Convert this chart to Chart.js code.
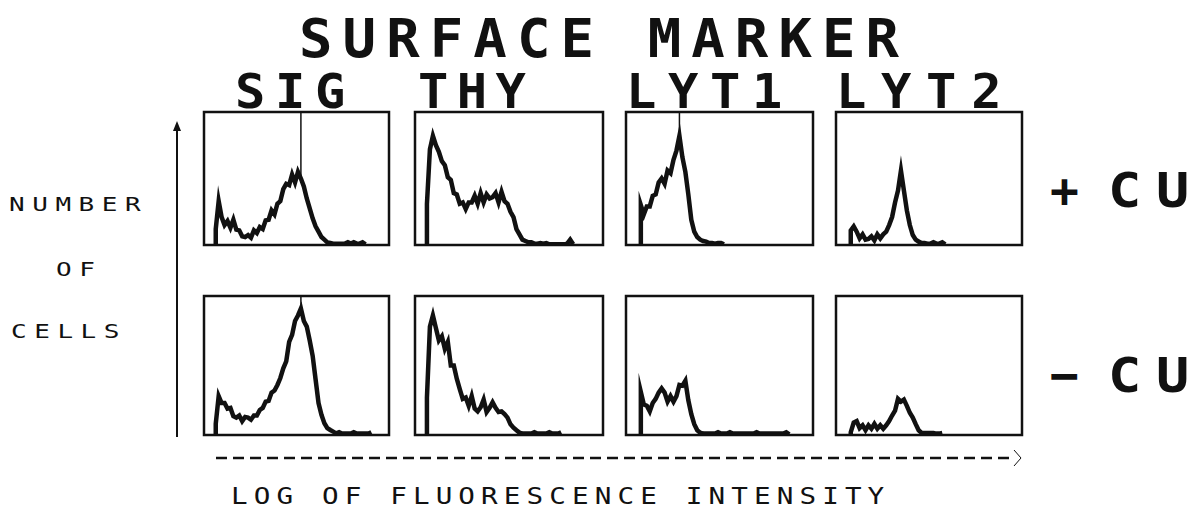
<!DOCTYPE html>
<html>
<head>
<meta charset="utf-8">
<script src="https://cdn.jsdelivr.net/npm/chart.js@4.4.0/dist/chart.umd.min.js"></script>
<style>
    body { margin: 0; background: #fff; }
    #page { position: relative; width: 1197px; height: 509px; background: #fff; overflow: hidden; }
    .txt { position: absolute; font-family: "DejaVu Sans Mono", monospace; font-weight: bold; color: #111; line-height: 1; white-space: pre; transform-origin: left top; }
    .small { font-weight: normal; }
    .panel { position: absolute; }
    svg { position: absolute; left: 0; top: 0; }
</style>
</head>
<body>
<div id="page">
    <div class="txt" style="left:299px; top:12px; font-size:53px; letter-spacing:9.6px; transform:scaleX(1.05);">SURFACE MARKER</div>

    <div class="txt" style="left:235px; top:67px; font-size:48px; letter-spacing:9.2px; transform:scaleX(1.05);">SIG</div>
    <div class="txt" style="left:418px; top:67px; font-size:48px; letter-spacing:8px; transform:scaleX(1.05);">THY</div>
    <div class="txt" style="left:626px; top:67px; font-size:48px; letter-spacing:11.1px; transform:scaleX(1.05);">LYT1</div>
    <div class="txt" style="left:836px; top:67px; font-size:48px; letter-spacing:14px; transform:scaleX(1.05);">LYT2</div>

    <div class="txt small" style="left:9px; top:194px; font-size:20px; letter-spacing:5.8px; transform:scaleX(1.3);">NUMBER</div>
    <div class="txt small" style="left:56px; top:259px; font-size:20px; letter-spacing:5.8px; transform:scaleX(1.3);">OF</div>
    <div class="txt small" style="left:11px; top:321px; font-size:20px; letter-spacing:5.8px; transform:scaleX(1.3);">CELLS</div>

    <div class="txt" style="left:1050px; top:166px; font-size:48px;">+</div>
    <div class="txt" style="left:1108px; top:166px; font-size:48px; letter-spacing:12.8px; transform:scaleX(1.15);">CU</div>
    <div class="txt" style="left:1050px; top:351px; font-size:48px;">−</div>
    <div class="txt" style="left:1108px; top:351px; font-size:48px; letter-spacing:12.8px; transform:scaleX(1.15);">CU</div>

    <div class="txt small" style="left:231px; top:485px; font-size:23px; letter-spacing:5.1px; transform:scaleX(1.2);">LOG OF FLUORESCENCE INTENSITY</div>

    <svg width="1197" height="509">
        <line x1="177" y1="130" x2="177" y2="437" stroke="#111" stroke-width="2"/>
        <polygon points="173,131 181,131 177,121" fill="#111"/>
        <line x1="216" y1="458" x2="1010" y2="458" stroke="#111" stroke-width="2.5" stroke-dasharray="11 6"/>
        <polyline points="1014,450 1021,458 1014,466" fill="none" stroke="#111" stroke-width="1"/>
    </svg>

    <canvas id="sigPlusChart" class="panel"></canvas>
    <canvas id="thyPlusChart" class="panel"></canvas>
    <canvas id="lyt1PlusChart" class="panel"></canvas>
    <canvas id="lyt2PlusChart" class="panel"></canvas>
    <canvas id="sigMinusChart" class="panel"></canvas>
    <canvas id="thyMinusChart" class="panel"></canvas>
    <canvas id="lyt1MinusChart" class="panel"></canvas>
    <canvas id="lyt2MinusChart" class="panel"></canvas>
</div>

<script>
// channel axis: 64 log-fluorescence channels, y in % of full scale
const channelMax = 63;

// + CU row
const sigPlusStart = 4;
const sigPlus = [12, 33, 21, 15, 18, 13, 19, 11.5, 11, 6.5, 6, 7.5, 5.5, 11, 9, 13.5, 12, 18.5, 19, 26, 23, 31, 33, 42, 46, 45, 53, 47, 55, 50, 44, 35, 27.5, 20, 14, 10, 6, 4, 2, 1.5, 1, 1, 1, 1, 1, 2, 1, 2, 1, 1, 2, 0.5];
const thyPlusStart = 4;
const thyPlus = [31, 72, 82, 75, 70, 63, 60, 51, 49, 39, 38, 31, 32, 27, 32, 32, 37, 31, 39, 32, 38, 35, 36, 39, 32, 40, 33, 31, 25, 21, 12, 8, 4, 3, 2, 2, 1, 1, 1.5, 1, 1.5, 0.5, 0.5, 0.5, 0.5, 0.5, 0.5, 1, 4, 0.5];
const lyt1PlusStart = 5;
const lyt1Plus = [30, 23, 29, 29, 37, 38, 47, 50, 46, 56, 54, 64, 71, 82, 66, 55, 38, 19, 10, 6, 4, 3, 2.5, 1.5, 1.5, 1, 1.5, 1.5, 0.5];
const lyt2PlusStart = 5;
const lyt2Plus = [11, 14, 10, 5, 8, 4, 4.5, 6.5, 3.5, 8, 5, 8, 10, 15, 21, 32, 41, 56, 41, 26, 15, 7.5, 4, 2.5, 1.5, 1.5, 1, 1, 2, 1, 1, 2, 0.5];

// - CU row
const sigMinusStart = 4;
const sigMinus = [8, 28, 23, 23, 19, 19.5, 13.5, 12.5, 14, 10, 13, 12.5, 11, 14, 14, 18, 19.5, 24, 24.5, 30.5, 32, 36, 41, 48, 53, 67, 72, 82, 86, 91, 82, 78, 68, 57, 40, 23, 14.5, 8.5, 5, 3.6, 2.4, 1.2, 2, 1, 1, 1, 1, 2, 1, 1, 1, 1, 1, 2];
const thyMinusStart = 4;
const thyMinus = [27, 78, 86, 77, 68, 71, 62, 67, 50, 50, 40.5, 33, 26, 27, 21, 28, 19, 17, 20, 25.5, 16.5, 19.5, 23.5, 19.5, 16.5, 17, 15, 12.5, 7.7, 5.3, 3.4, 1.7, 1, 1, 1, 1, 2, 1, 1, 1, 1, 2, 1, 1, 1, 2];
const lyt1MinusStart = 5;
const lyt1Minus = [31, 22, 21, 17, 23, 26, 30.5, 33.5, 30.5, 24, 28, 24, 28, 36, 35.5, 39, 25, 15, 7.8, 3.4, 1.7, 1, 1, 1, 1, 1, 2, 1, 1, 1, 2, 1, 1, 1, 1, 1, 1, 1, 1, 2, 1, 1, 1, 1, 1, 1, 1, 1, 1, 2, 0.5];
const lyt2MinusStart = 5;
const lyt2Minus = [2, 9, 10, 5, 7, 3.5, 7, 4.5, 8, 4.5, 7, 4.5, 7, 10, 14, 17.5, 26, 24, 25.5, 21, 16, 12.6, 7.8, 3.4, 1.5, 1.5, 1.5, 1.5, 1.5, 1, 1, 1.5];

// cursor lines drawn in some panels: channel and height where they start
const sigPlusCursor = [33, 50];
const lyt1PlusCursor = [18, 82];
const sigMinusCursor = [33, 91];

document.addEventListener('DOMContentLoaded', function() {
    const app = new HistogramPanels();
});

class HistogramPanels {
    constructor() {
        this.charts = {};
        this.cols = [[204, 389], [415, 603], [626, 813], [836, 1022]];
        this.rows = [[112, 245], [296, 435]];
        this.init();
    }

    init() {
        this.createPanel('sigPlusChart', 0, 0, sigPlusStart, sigPlus, sigPlusCursor);
        this.createPanel('thyPlusChart', 1, 0, thyPlusStart, thyPlus, null);
        this.createPanel('lyt1PlusChart', 2, 0, lyt1PlusStart, lyt1Plus, lyt1PlusCursor);
        this.createPanel('lyt2PlusChart', 3, 0, lyt2PlusStart, lyt2Plus, null);
        this.createPanel('sigMinusChart', 0, 1, sigMinusStart, sigMinus, sigMinusCursor);
        this.createPanel('thyMinusChart', 1, 1, thyMinusStart, thyMinus, null);
        this.createPanel('lyt1MinusChart', 2, 1, lyt1MinusStart, lyt1Minus, null);
        this.createPanel('lyt2MinusChart', 3, 1, lyt2MinusStart, lyt2Minus, null);
    }

    createPanel(id, col, row, start, values, cursor) {
        const ctx = document.getElementById(id);
        const [left, right] = this.cols[col];
        const [top, bottom] = this.rows[row];
        const pad = 3;
        ctx.width = right - left + pad * 2;
        ctx.height = bottom - top + pad * 2;
        ctx.style.left = (left - pad) + 'px';
        ctx.style.top = (top - pad) + 'px';

        const points = [{ x: start, y: 0 }];
        values.forEach((v, i) => points.push({ x: start + i, y: v }));

        const datasets = [{
            data: points,
            borderColor: '#111',
            borderWidth: 4.5,
            pointRadius: 0,
            tension: 0,
            fill: false
        }];

        if (cursor) {
            datasets.push({
                data: [{ x: cursor[0], y: cursor[1] }, { x: cursor[0], y: 100 }],
                borderColor: '#111',
                borderWidth: 1.5,
                pointRadius: 0
            });
        }

        const boxBorder = {
            id: 'boxBorder',
            afterDatasetsDraw(chart) {
                const a = chart.chartArea;
                const c = chart.ctx;
                c.save();
                c.strokeStyle = '#111';
                c.lineWidth = 2.5;
                c.strokeRect(a.left, a.top, a.right - a.left, a.bottom - a.top);
                c.restore();
            }
        };

        this.charts[id] = new Chart(ctx, {
            type: 'line',
            data: { datasets: datasets },
            options: {
                responsive: false,
                animation: false,
                layout: { padding: pad },
                plugins: { legend: { display: false }, tooltip: { enabled: false } },
                scales: {
                    x: { type: 'linear', min: 0, max: channelMax, display: false },
                    y: { min: 0, max: 100, display: false }
                }
            },
            plugins: [boxBorder]
        });
    }
}
</script>
</body>
</html>
